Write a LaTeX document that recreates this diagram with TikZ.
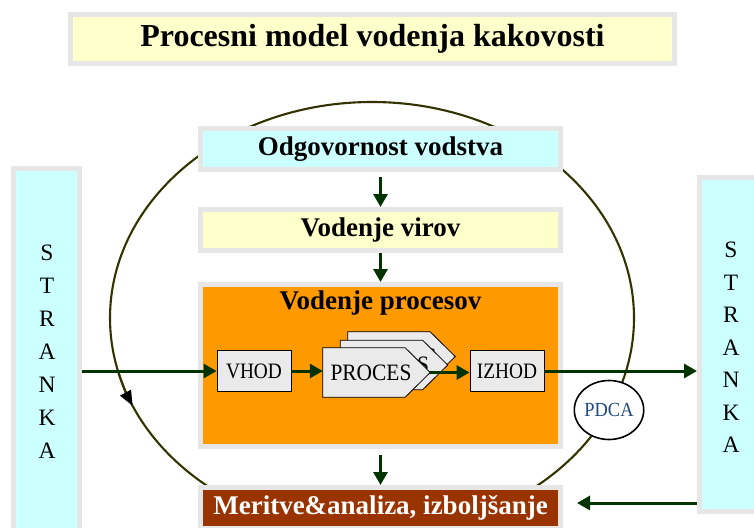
\documentclass[tikz,border=0pt]{standalone}
\usepackage{fontspec}
\setmainfont{Liberation Serif}
\usetikzlibrary{arrows.meta,shapes.geometric}

\definecolor{framegray}{HTML}{E6E6E6}
\definecolor{paleyellow}{HTML}{FFFFCC}
\definecolor{palecyan}{HTML}{CCFFFF}
\definecolor{procorange}{HTML}{FF9900}
\definecolor{brickred}{HTML}{993300}
\definecolor{arrowgreen}{HTML}{003300}
\definecolor{loopolive}{HTML}{333300}
\definecolor{stepgray}{HTML}{EAEAEA}
\definecolor{pdcablue}{HTML}{1F497D}

\tikzset{
  frame/.style={draw=framegray, line width=5pt, inner sep=0pt,
    minimum width=360pt, minimum height=41pt},
  boxtext/.style={font=\fontsize{27}{30}\selectfont\bfseries},
  flow/.style={draw=arrowgreen, line width=3pt,
    -{Triangle[length=13pt,width=14pt]}},
  stepbox/.style={draw=black, line width=0.8pt, fill=stepgray, inner sep=0pt,
    minimum width=74pt, minimum height=41pt, font=\fontsize{22}{24}\selectfont},
  procframe/.style={rectangle, draw=none, inner sep=0pt,
    minimum width=107pt, minimum height=49pt},
  proccard/.style={draw=black, line width=0.8pt, fill=stepgray},
  proclabel/.style={inner sep=0pt, font=\fontsize{23.5}{26}\selectfont},
  loopline/.style={draw=loopolive, line width=2.1pt},
  letters/.style={align=center, inner sep=0pt}
}

\begin{document}
\begin{tikzpicture}[x=1pt,y=-1pt]
\useasboundingbox (0,0) rectangle (754,527);
\clip (0,0) rectangle (754,527);

% improvement loop behind the boxes
\draw[loopline] (372,318) ellipse [x radius=262, y radius=216];
\draw[loopline, -{Triangle[length=15pt,width=12pt,black]}]
  (118.9,373.9) arc[start angle=165, end angle=156, x radius=262, y radius=216];

% heading
\node[frame, fill=paleyellow, minimum width=604pt, minimum height=49pt,
  font=\fontsize{32}{36}\selectfont\bfseries] (title) at (372.5,39)
  {Procesni model vodenja kakovosti};

% main column
\node[frame, fill=palecyan, boxtext] (odg) at (380.5,149) {Odgovornost vodstva};
\node[frame, fill=paleyellow, boxtext] (vir) at (380.5,230) {Vodenje virov};
\node[frame, fill=procorange, minimum height=162pt] (procs) at (380.5,365.5) {};
\node[boxtext, inner sep=0pt] (procstitle) at (380.5,303) {Vodenje procesov};
\node[frame, fill=brickred, text=white, boxtext] (meas) at (380.5,508)
  {Meritve\&analiza, izboljšanje};

% customers on both sides
\node[frame, fill=palecyan, minimum width=66pt, minimum height=367pt] (lstr) at (46.5,352) {};
\node[letters, font=\fontsize{23.5}{33}\selectfont] (lstrtext) at (47,352) {S\\T\\R\\A\\N\\K\\A};
\node[frame, fill=palecyan, minimum width=66pt, minimum height=334pt] (rstr) at (732.5,344.5) {};
\node[letters, font=\fontsize{23.5}{32.5}\selectfont] (rstrtext) at (731,347.5) {S\\T\\R\\A\\N\\K\\A};

% process chain: input, stacked process cards, output
\node[stepbox] (vhod) at (254,371) {\scalebox{0.88}[1]{VHOD}};

\node[procframe] (proc3) at (401.5,356.5) {};
\draw[proccard] (proc3.north west) -- ([xshift=-25pt]proc3.north east) -- (proc3.east)
  -- ([xshift=-25pt]proc3.south east) -- (proc3.south west) -- cycle;
\node[proclabel] (proc3label) at ([xshift=-5.5pt]proc3.center) {\scalebox{0.91}[1]{PROCES}};

\node[procframe] (proc2) at (394,365) {};
\draw[proccard] (proc2.north west) -- ([xshift=-25pt]proc2.north east) -- (proc2.east)
  -- ([xshift=-25pt]proc2.south east) -- (proc2.south west) -- cycle;
\node[proclabel] (proc2label) at ([xshift=-5.5pt]proc2.center) {\scalebox{0.91}[1]{PROCES}};

\node[procframe] (proc1) at (376.5,372.5) {};
\draw[proccard] (proc1.north west) -- ([xshift=-25pt]proc1.north east) -- (proc1.east)
  -- ([xshift=-25pt]proc1.south east) -- (proc1.south west) -- cycle;
\node[proclabel] (proc1label) at ([xshift=-5.5pt]proc1.center) {\scalebox{0.91}[1]{PROCES}};

\node[stepbox] (izhod) at (507,371) {\scalebox{0.88}[1]{IZHOD}};

% PDCA marker on the loop
\node[ellipse, draw=black, line width=1.6pt, fill=white, inner sep=0pt,
  minimum width=66pt, minimum height=59pt, text=pdcablue,
  font=\fontsize{20}{22}\selectfont] (pdca) at (609,410) {\scalebox{0.92}[1]{PDCA}};

% connectors
\draw[flow, shorten <=5pt] (odg.south) -- (vir.north);
\draw[flow] (vir.south) -- (procs.north);
\draw[flow, shorten <=6pt] (procs.south) -- (meas.north);
\draw[flow] (vhod.west -| lstr.east) -- (vhod.west);
\draw[flow] (vhod.east) -- (vhod.east -| proc1.west);
\draw[flow] (proc1.east) -- (proc1.east -| izhod.west);
\draw[flow] (izhod.east) -- (izhod.east -| rstr.west);
\draw[flow, shorten >=14pt] ([yshift=5pt]meas.east -| rstr.west) -- ([yshift=5pt]meas.east);
\end{tikzpicture}
\end{document}
